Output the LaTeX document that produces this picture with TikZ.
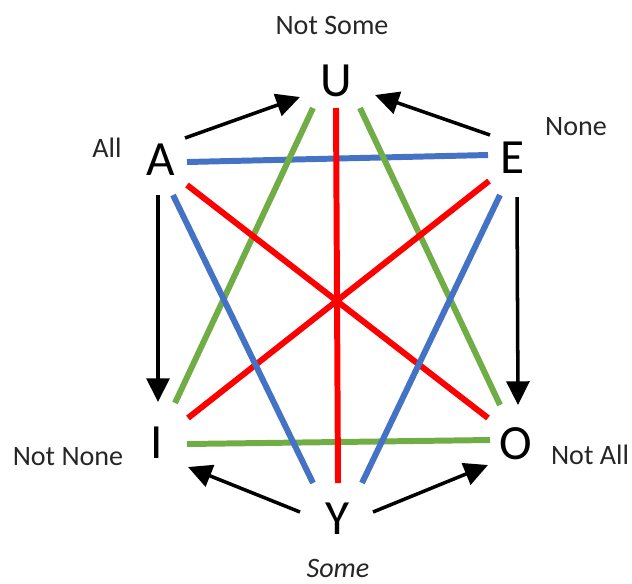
\documentclass[tikz,border=0pt]{standalone}
\usepackage{fontspec}
\setmainfont{Carlito}
\usetikzlibrary{arrows.meta, calc}
\usepackage{xcolor}
\definecolor{sqred}{HTML}{FF0000}
\definecolor{sqgreen}{HTML}{70AD47}
\definecolor{sqblue}{HTML}{4472C4}
\definecolor{sqtext}{HTML}{262626}

\tikzset{
  corner/.style={inner sep=0pt, font=\fontsize{28}{30}\selectfont},
  quant/.style={inner sep=0pt, text=sqtext, font=\fontsize{16}{18}\selectfont},
  bar/.style={line width=3.4pt},
  implies/.style={line width=2pt, -{Triangle[length=13.5pt, width=13pt]}}
}

\begin{document}
\begin{tikzpicture}[x=0.02cm, y=-0.02cm]
        \useasboundingbox (0,0) rectangle (632,583);
        % the six corners
        \node[corner] (U) at (336,81) {U};
        \node[corner] (A) at (161,160) {A};
        \node[corner] (E) at (513,158) {E};
        \node[corner] (I) at (157,443) {I};
        \node[corner] (O) at (516,444) {O};
        \node[corner] (Y) at (337,519) {Y};
        % what they stand for
        \node[quant] (notsome) at (332,25) {Not Some};
        \node[quant] (all) at (107,148) {All};
        \node[quant] (none) at (576,127) {None};
        \node[quant] (notnone) at (68,457) {Not None};
        \node[quant] (notall) at (590,455) {Not All};
        \node[quant, font=\fontsize{16}{18}\selectfont\itshape] (some) at (338,568) {Some};
        % contraries, contradictories, subcontraries
        \draw[bar, sqblue] ($(A)+(26,2)$) -- ($(E)+(-25,-3)$);
        \draw[bar, sqgreen] ($(I)+(30,1)$) -- ($(O)+(-26,-4)$);
        \draw[bar, sqred] ($(U)+(0,27)$) -- ($(Y)+(1,-36)$);
        \draw[bar, sqgreen] ($(U)+(-23,27)$) -- ($(I)+(18,-40)$);
        \draw[bar, sqgreen] ($(U)+(24,27)$) -- ($(O)+(-16,-39)$);
        \draw[bar, sqred] ($(A)+(26,25)$) -- ($(O)+(-28,-26)$);
        \draw[bar, sqred] ($(E)+(-24,23)$) -- ($(I)+(31,-25)$);
        \draw[bar, sqblue] ($(A)+(12,35)$) -- ($(Y)+(-24,-36)$);
        \draw[bar, sqblue] ($(E)+(-13,37)$) -- ($(Y)+(25,-36)$);
        % implications
        \draw[implies] ($(A)+(24,-22)$) -- ($(U)+(-36,16)$);
        \draw[implies] ($(E)+(-23,-23)$) -- ($(U)+(39,14)$);
        \draw[implies] ($(A)+(-3,35)$) -- ($(I)+(1,-41)$);
        \draw[implies] ($(E)+(4,39)$) -- ($(O)+(2,-39)$);
        \draw[implies] ($(Y)+(-37,-7)$) -- ($(I)+(31,24)$);
        \draw[implies] ($(Y)+(36,-7)$) -- ($(O)+(-28,21)$);
      \end{tikzpicture}
\end{document}
